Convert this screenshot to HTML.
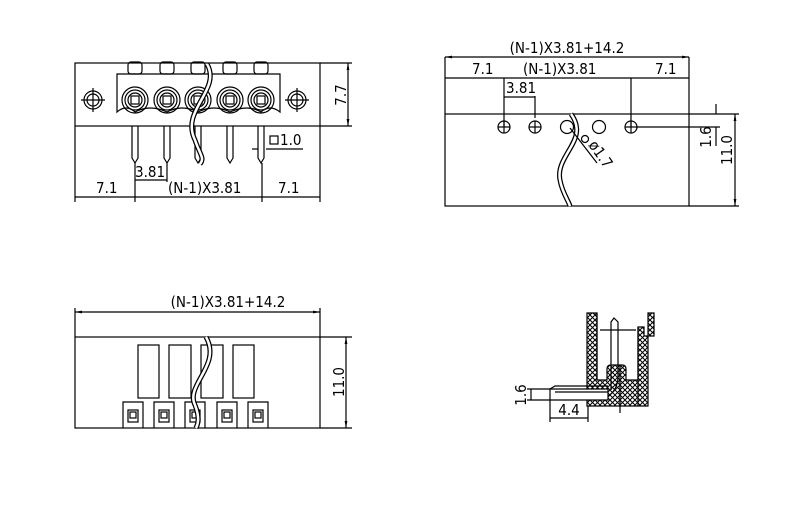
<!DOCTYPE html>
<html><head><style>body{margin:0;background:#fff}svg{display:block}text{font-family:"DejaVu Sans Condensed","Liberation Sans",sans-serif;font-size:15px;fill:#000}</style></head><body>
<svg width="800" height="514" viewBox="0 0 800 514" xmlns="http://www.w3.org/2000/svg" stroke="#000" fill="none" stroke-width="1.2">
<defs>
<pattern id="h" width="5" height="5" patternUnits="userSpaceOnUse"><path d="M0 0L5 5M5 0L0 5" stroke="#000" stroke-width="1"/></pattern>
<marker id="a" viewBox="0 0 10 10" refX="10" refY="5" markerWidth="6" markerHeight="6" orient="auto-start-reverse"><path d="M0 3L10 5L0 7z" fill="#000" stroke="none"/></marker>
</defs>
<!-- TOP LEFT -->
<rect x="75" y="63" width="245" height="63"/>
<line x1="320" y1="63" x2="352" y2="63"/><line x1="320" y1="126" x2="352" y2="126"/>
<line x1="348" y1="63" x2="348" y2="126" marker-start="url(#a)" marker-end="url(#a)"/>
<text x="0" y="0" transform="translate(346,95) rotate(-90)" text-anchor="middle" stroke="none">7.7</text>
<path d="M117 74H280V112Q270 104 261 112Q248 104 230 112Q214 104 198 112Q182 104 167 112Q150 104 135 112Q126 104 117 112Z"/>
<g id="c">
<rect x="128" y="62" width="14" height="12" rx="3"/>
<circle cx="135" cy="100" r="13"/><circle cx="135" cy="100" r="10"/><circle cx="135" cy="100" r="7"/><rect x="131" y="96" width="8" height="8"/>
<path d="M132 126V158L135 163L138 158V126"/>
</g>
<use href="#c" x="32"/><use href="#c" x="63"/><use href="#c" x="95"/><use href="#c" x="126"/>
<g id="s"><circle cx="93" cy="100" r="9"/><circle cx="93" cy="100" r="6"/><line x1="81" y1="100" x2="105" y2="100"/><line x1="93" y1="88" x2="93" y2="112"/></g>
<use href="#s" x="204"/>
<path d="M207 64C222 90 180 110 195 140C200 155 205 158 200 164" stroke-width="5"/>
<path d="M207 64C222 90 180 110 195 140C200 155 205 158 200 164" stroke="#fff" stroke-width="2.5"/>
<line x1="75" y1="126" x2="75" y2="202"/><line x1="320" y1="126" x2="320" y2="202"/>
<line x1="135" y1="163" x2="135" y2="202"/><line x1="262" y1="163" x2="262" y2="202"/><line x1="167" y1="163" x2="167" y2="182"/>
<line x1="75" y1="197" x2="320" y2="197"/>
<line x1="135" y1="180" x2="167" y2="180"/>
<text x="135" y="177" stroke="none">3.81</text>
<text x="96" y="193" stroke="none">7.1</text><text x="168" y="193" stroke="none">(N-1)X3.81</text><text x="278" y="193" stroke="none">7.1</text>
<line x1="252" y1="149" x2="258" y2="149"/><line x1="266" y1="149" x2="303" y2="149"/>
<rect x="270" y="136" width="8" height="8"/><text x="280" y="145" stroke="none">1.0</text>
<!-- TOP RIGHT -->
<rect x="445" y="114" width="244" height="92"/>
<line x1="445" y1="57" x2="445" y2="114"/><line x1="689" y1="57" x2="689" y2="114"/>
<line x1="445" y1="57" x2="689" y2="57" marker-start="url(#a)" marker-end="url(#a)"/>
<line x1="445" y1="78" x2="689" y2="78"/>
<text x="567" y="53" text-anchor="middle" stroke="none">(N-1)X3.81+14.2</text>
<text x="472" y="74" stroke="none">7.1</text><text x="523" y="74" stroke="none">(N-1)X3.81</text><text x="655" y="74" stroke="none">7.1</text>
<line x1="504" y1="78" x2="504" y2="127"/><line x1="631" y1="78" x2="631" y2="127"/><line x1="535" y1="96" x2="535" y2="118"/>
<line x1="504" y1="97" x2="535" y2="97"/><text x="506" y="93" stroke="none">3.81</text>
<g id="x"><circle cx="504" cy="127" r="6"/><line x1="498" y1="127" x2="510" y2="127"/><line x1="504" y1="121" x2="504" y2="133"/></g>
<use href="#x" x="31"/><use href="#x" x="127"/>
<circle cx="567" cy="127" r="6.5"/><circle cx="599" cy="127" r="6.5"/>
<path d="M571 114C590 140 555 155 560 180C562 192 568 200 570 206" stroke-width="5"/>
<path d="M571 114C590 140 555 155 560 180C562 192 568 200 570 206" stroke="#fff" stroke-width="2.5"/>
<circle cx="585" cy="139" r="3.5"/><line x1="570" y1="128" x2="597" y2="163"/>
<text transform="translate(588,145) rotate(55)" stroke="none" font-size="14">ø1.7</text>
<line x1="689" y1="114" x2="739" y2="114"/><line x1="689" y1="206" x2="739" y2="206"/>
<line x1="637" y1="127" x2="720" y2="127"/>
<line x1="735" y1="114" x2="735" y2="206" marker-start="url(#a)" marker-end="url(#a)"/>
<line x1="716" y1="104" x2="716" y2="114"/><line x1="716" y1="127" x2="716" y2="146"/>
<text transform="translate(711,137) rotate(-90)" text-anchor="middle" stroke="none">1.6</text>
<text transform="translate(732,150) rotate(-90)" text-anchor="middle" stroke="none">11.0</text>
<!-- BOTTOM LEFT -->
<rect x="75" y="337" width="245" height="91"/>
<line x1="75" y1="308" x2="75" y2="337"/><line x1="320" y1="308" x2="320" y2="337"/>
<line x1="75" y1="312" x2="320" y2="312" marker-start="url(#a)" marker-end="url(#a)"/>
<text x="228" y="307" text-anchor="middle" stroke="none">(N-1)X3.81+14.2</text>
<line x1="320" y1="337" x2="352" y2="337"/><line x1="320" y1="428" x2="352" y2="428"/>
<line x1="346" y1="337" x2="346" y2="428" marker-start="url(#a)" marker-end="url(#a)"/>
<text transform="translate(344,382) rotate(-90)" text-anchor="middle" stroke="none">11.0</text>
<rect x="138" y="345" width="21" height="53"/><rect x="169" y="345" width="22" height="53"/><rect x="201" y="345" width="22" height="53"/><rect x="233" y="345" width="21" height="53"/>
<g id="q"><path d="M123 428V402H143V428"/><rect x="128" y="410" width="10" height="12"/><rect x="130" y="412" width="6" height="6"/></g>
<use href="#q" x="31"/><use href="#q" x="62"/><use href="#q" x="94"/><use href="#q" x="125"/>
<path d="M206 337C222 365 185 385 195 405C200 418 198 424 196 428" stroke-width="5"/>
<path d="M206 337C222 365 185 385 195 405C200 418 198 424 196 428" stroke="#fff" stroke-width="2.5"/>
<!-- BOTTOM RIGHT -->
<path d="M587 313H597V380H607V369Q607 365 611 365H622Q626 365 626 369V380H638V327H644V336H648V313H654V336H648V406H587Z" fill="url(#h)"/>
<path d="M597 313V380M638 327V406M600 330H636" />
<path d="M611 390V322L614 318L618 322V378Q617 392 605 398"/>
<path d="M550 389H608V400H550Z" fill="#fff"/>
<path d="M550 389L555 386H608M555 392H608"/>
<line x1="620" y1="365" x2="620" y2="413"/>
<line x1="527" y1="389" x2="550" y2="389"/><line x1="527" y1="400" x2="550" y2="400"/>
<line x1="531" y1="389" x2="531" y2="400"/>
<text transform="translate(526,395) rotate(-90)" text-anchor="middle" stroke="none" font-size="14">1.6</text>
<line x1="550" y1="400" x2="550" y2="422"/><line x1="588" y1="406" x2="588" y2="422"/>
<line x1="550" y1="418" x2="588" y2="418"/>
<text x="569" y="415" text-anchor="middle" stroke="none">4.4</text>
</svg>
</body></html>
